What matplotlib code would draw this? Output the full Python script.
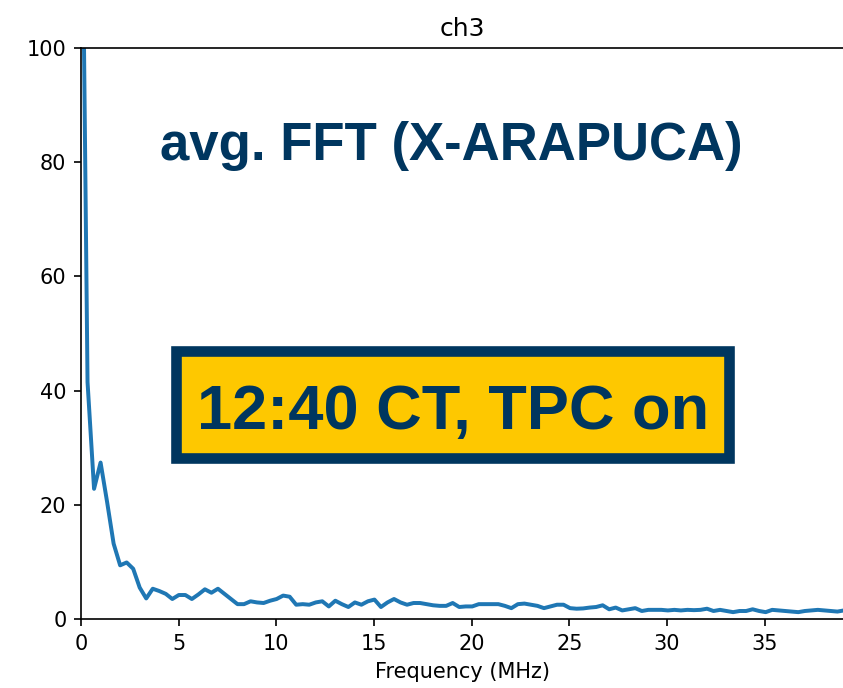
import numpy as np
import matplotlib
matplotlib.use('Agg')
import matplotlib.pyplot as plt
from matplotlib.patches import Rectangle

# averaged FFT amplitude per frequency bin
amplitude = [
    150.0, 41.5, 22.8, 27.4, 20.5, 13.2, 9.4, 9.9, 8.8, 5.5,
    3.6, 5.3, 4.9, 4.4, 3.5, 4.2, 4.2, 3.5, 4.3, 5.2,
    4.6, 5.3, 4.4, 3.5, 2.6, 2.6, 3.1, 2.9, 2.8, 3.2,
    3.5, 4.1, 3.9, 2.5, 2.6, 2.5, 2.9, 3.1, 2.2, 3.2,
    2.6, 2.1, 2.9, 2.5, 3.1, 3.4, 2.1, 2.9, 3.5, 2.9,
    2.5, 2.8, 2.8, 2.6, 2.4, 2.3, 2.3, 2.8, 2.1, 2.2,
    2.2, 2.6, 2.6, 2.6, 2.6, 2.3, 1.9, 2.6, 2.7, 2.5,
    2.3, 1.9, 2.2, 2.5, 2.5, 1.9, 1.8, 1.85, 2.0, 2.1,
    2.4, 1.7, 2.0, 1.5, 1.7, 1.9, 1.4, 1.6, 1.6, 1.6,
    1.5, 1.6, 1.5, 1.6, 1.55, 1.6, 1.8, 1.4, 1.6, 1.4,
    1.2, 1.4, 1.4, 1.7, 1.4, 1.2, 1.6, 1.5, 1.4, 1.3,
    1.2, 1.4, 1.5, 1.6, 1.5, 1.4, 1.3, 1.5,
]
fs_mhz = 78.125          # digitizer sampling rate
n_samples = 234          # FFT length
freq = np.arange(len(amplitude)) * fs_mhz / n_samples

channel = 'ch3'
headline = 'avg. FFT (X-ARAPUCA)'
status = '12:40 CT, TPC on'
navy = '#00365f'
gold = '#fec800'

fig = plt.figure(figsize=(843 / 150, 688 / 150), dpi=150)
ax = fig.add_axes([0.0961, 0.1003, 0.905, 0.8299])
ax.plot(freq, amplitude, color='#1f77b4', lw=1.9)
ax.set_xlim(0, fs_mhz / 2)
ax.set_ylim(0, 100)
ax.set_title(channel)
ax.set_xlabel('Frequency (MHz)')

ax.text(0.486, 0.804, headline, transform=ax.transAxes, ha='center', va='baseline',
        fontsize=25.3, fontweight='bold', family='Liberation Sans', color=navy)

# yellow status box with navy frame
ax.add_patch(Rectangle((0.1251, 0.2820), 0.7239, 0.1872, transform=ax.transAxes,
                       facecolor=gold, edgecolor=navy, lw=5.1, zorder=3))
ax.text(0.4875, 0.332, status, transform=ax.transAxes, ha='center', va='baseline',
        fontsize=30.3, fontweight='bold', family='Liberation Sans', color=navy, zorder=4)

fig.savefig('out.png', dpi=150)
